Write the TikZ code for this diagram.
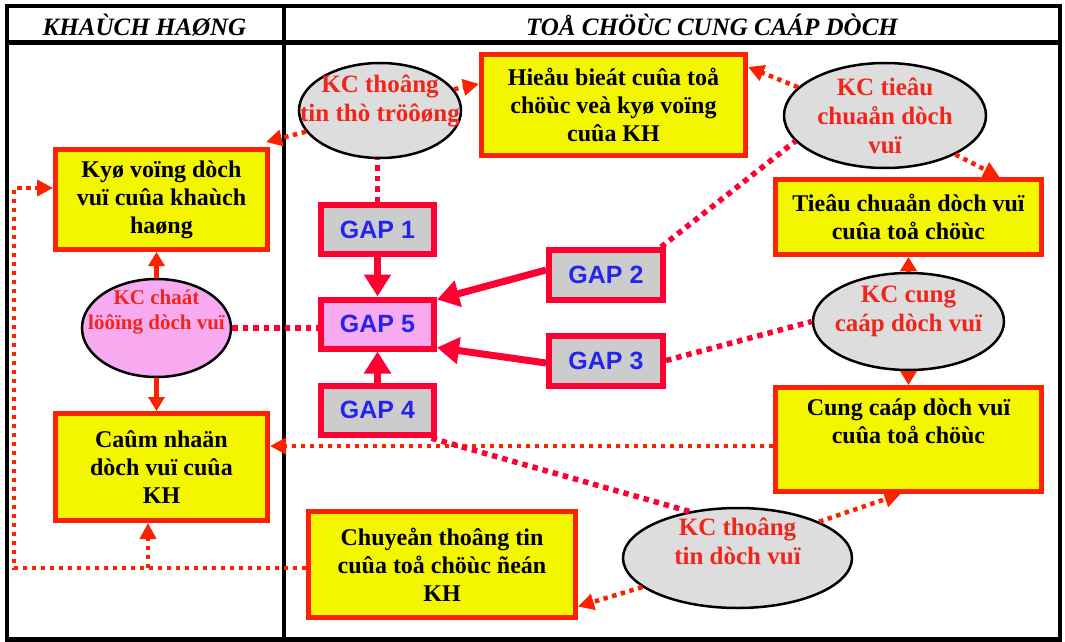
\documentclass[tikz,border=0pt]{standalone}
\usepackage{fontspec}
\setmainfont{Liberation Serif}
\newfontfamily\gapfont{Liberation Sans}
\usetikzlibrary{shapes.geometric,arrows.meta}
\definecolor{boxred}{RGB}{252,34,0}
\definecolor{gapred}{RGB}{255,0,51}
\definecolor{boxyellow}{RGB}{244,246,0}
\definecolor{kcgray}{RGB}{221,221,221}
\definecolor{kcpink}{RGB}{248,170,240}
\definecolor{gapgray}{RGB}{204,204,204}
\definecolor{gapblue}{RGB}{36,36,238}
\definecolor{kctext}{RGB}{240,38,28}

\begin{document}
\begin{tikzpicture}[x=1pt,y=-1pt,
  infobox/.style={draw=boxred, fill=boxyellow, line width=5pt, inner sep=0pt,
    align=center, font=\bfseries\fontsize{24}{28}\selectfont},
  gapbox/.style={draw=gapred, fill=gapgray, line width=6pt, minimum width=113pt,
    minimum height=49pt, inner sep=0pt, text=gapblue,
    font=\gapfont\bfseries\fontsize{25}{30}\selectfont},
  kcell/.style={ellipse, draw=black, fill=kcgray, line width=2.5pt, inner sep=0pt},
  kclab/.style={text=kctext, align=center, font=\bfseries\fontsize{25}{29}\selectfont},
  dotarrow/.style={draw=boxred, line width=4.5pt, dash pattern=on 4.5pt off 4.5pt,
    -{Triangle[length=16pt,width=16pt]}},
  dotlink/.style={draw=gapred, line width=5.5pt, dash pattern=on 5.5pt off 5pt},
  gaparrow/.style={draw=gapred, line width=7pt, -{Triangle[length=22pt,width=26pt]}},
  kcarrow/.style={draw=boxred, line width=5pt, -{Triangle[length=14pt,width=16pt]}},
  headtext/.style={font=\bfseries\itshape\fontsize{25}{30}\selectfont}
]
\useasboundingbox (0,0) rectangle (1065,642);

% table frame with header row and two columns
\draw[line width=4.5pt] (7,6) rectangle (1060,639.5);
\draw[line width=4.5pt] (7,42.5) -- (1060,42.5);
\draw[line width=4.5pt] (284,6) -- (284,639.5);

\node[headtext] (hdrL) at (144.5,25) {KHAÙCH HAØNG};
\node[headtext] (hdrR) at (712,25) {TOÅ CHÖÙC CUNG CAÁP DÒCH};

% yellow boxes
\node[infobox, minimum width=212pt, minimum height=100pt] (kyo) at (161.5,199.5)
  {Kyø voïng dòch\\vuï cuûa khaùch\\haøng};
\node[infobox, minimum width=264pt, minimum height=101pt] (hieu) at (613.5,105)
  {Hieåu bieát cuûa toå\\chöùc veà kyø voïng\\cuûa KH};
\node[infobox, minimum width=266pt, minimum height=75pt] (tieu) at (908.5,217)
  {Tieâu chuaån dòch vuï\\cuûa toå chöùc};
\node[infobox, minimum width=266pt, minimum height=104pt] (cung) at (908.5,439.5)
  {Cung caáp dòch vuï\\cuûa toå chöùc\\\strut};
\node[infobox, minimum width=267pt, minimum height=106pt] (chuyen) at (442,564.5)
  {Chuyeån thoâng tin\\cuûa toå chöùc ñeán\\KH};
\node[infobox, minimum width=212pt, minimum height=107pt] (cam) at (161.5,467)
  {Caûm nhaän\\dòch vuï cuûa\\KH};

% gap boxes
\node[gapbox] (gap1) at (377.5,229.5) {GAP 1};
\node[gapbox, fill=kcpink] (gap5) at (377.5,324) {GAP 5};
\node[gapbox] (gap4) at (377.5,410) {GAP 4};
\node[gapbox, minimum width=114pt, minimum height=50pt] (gap2) at (606,275) {GAP 2};
\node[gapbox, minimum width=114pt, minimum height=50pt] (gap3) at (606,360.5) {GAP 3};

% gap ellipses
\node[kcell, minimum width=162pt, minimum height=95pt,
  label={[kclab,yshift=10pt]center:{KC thoâng\\tin thò tröôøng}}] (mkt) at (380,110.5) {};
\node[kcell, minimum width=202pt, minimum height=105pt,
  label={[kclab]center:{KC tieâu\\chuaån dòch\\vuï}}] (std) at (885,115.5) {};
\node[kcell, minimum width=191pt, minimum height=97pt,
  label={[kclab,yshift=10pt]center:{KC cung\\caáp dòch vuï}}] (del) at (908.5,321.5) {};
\node[kcell, minimum width=229pt, minimum height=100pt,
  label={[kclab,yshift=17pt]center:{KC thoâng\\tin dòch vuï}}] (com) at (737.5,558) {};
\node[kcell, fill=kcpink, minimum width=149pt, minimum height=98pt,
  label={[kclab,yshift=16pt,font=\bfseries\fontsize{21}{25}\selectfont]center:{KC chaát\\löôïng dòch vuï}}] (qual) at (156.5,328) {};

% market information gap
\draw[dotarrow] (mkt.16) -- ([yshift=21pt]hieu.west);
\draw[dotarrow] (mkt.196) -- ([shift={(-4pt,5pt)}]kyo.north east);
\draw[dotlink] (gap1.north) -- (gap1.north |- mkt.south);

% service standards gap
\draw[dotarrow] (std.162) -- ([yshift=-15pt]hieu.north east);
\draw[dotarrow] (std.-29) -- ([xshift=91pt]tieu.north);
\draw[dotlink] ([xshift=-5pt]gap2.north east) -- (std.196);

% service delivery gap
\draw[kcarrow] (del.north) -- (tieu.south);
\draw[kcarrow] (del.south) -- (cung.north);
\draw[dotlink] (gap3.east) -- (del.west);

% communication gap
\coordinate (j1) at ([yshift=-6.5pt]cung.west);
\draw[dotarrow] (j1) -- (cam.east |- j1);
\draw[dotlink] (com.136) -- ([xshift=-8pt]gap4.south east);
\draw[dotarrow] (com.24) -- ([xshift=-8pt]cung.south);
\draw[dotarrow] (com.197) -- ([yshift=-42pt]chuyen.east);

% feedback to the customer
\coordinate (n0) at ([yshift=-3.5pt]chuyen.west);
\coordinate (n1) at (14,568);
\coordinate (n2) at (14,188);
\coordinate (n3) at (148,568);
\draw[dotarrow] (n0) -- (n1) -- (n2) -- (kyo.west |- n2);
\draw[dotarrow] (n3) -- (n3 |- cam.south);

% perceived quality gap
\draw[kcarrow] (qual.north) -- (qual.north |- kyo.south);
\draw[kcarrow] (qual.south) -- (qual.south |- cam.north);
\draw[dotlink] (qual.east) -- (qual.east -| gap5.west);

% all gaps feed GAP 5
\draw[gaparrow] (gap1.south) -- (gap5.north);
\draw[gaparrow] (gap4.north) -- (gap5.south);
\draw[gaparrow] ([yshift=5pt]gap2.west) -- ([yshift=-3pt]gap5.north east);
\draw[gaparrow] ([yshift=-2.5pt]gap3.west) -- ([yshift=4pt]gap5.south east);
\end{tikzpicture}
\end{document}
